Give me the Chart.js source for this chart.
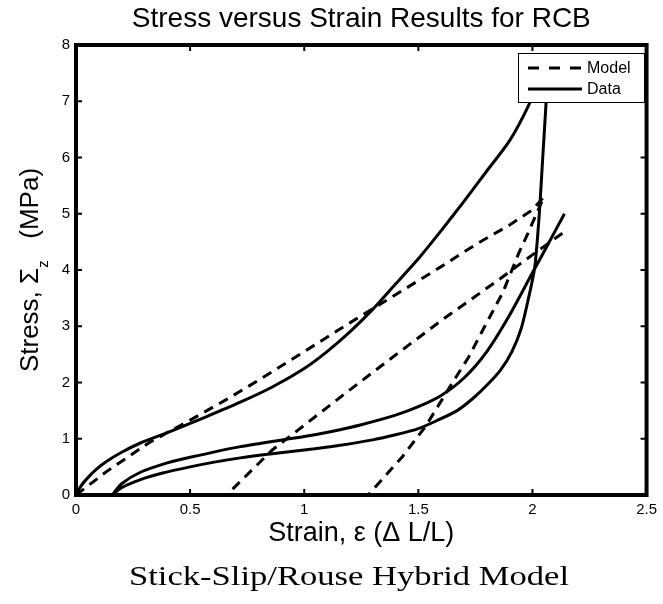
<!DOCTYPE html>
<html>
<head>
<meta charset="utf-8">
<script src="https://cdn.jsdelivr.net/npm/chart.js@4"></script>
<style>
  body { margin: 0; background: #fff; }
  #wrap { width: 663px; height: 604px; }
</style>
</head>
<body>
<div id="wrap"><canvas id="stress"></canvas></div>
<script>
const xTickLabels = ['0', '0.5', '1', '1.5', '2', '2.5'];
const yTickLabels = ['0', '1', '2', '3', '4', '5', '6', '7', '8'];

// measured loop: load, unload, reload
const dataStrain = [0, 0.02, 0.05, 0.09, 0.135, 0.2, 0.28, 0.42, 0.57, 0.72, 0.86, 1.0, 1.1, 1.2, 1.3, 1.4, 1.5, 1.6, 1.7, 1.8, 1.9, 1.98, 2.03, 2.06,
  2.065, 2.06, 2.045, 2.03, 2.01, 1.98, 1.95, 1.91, 1.86, 1.8, 1.74, 1.67, 1.58, 1.5, 1.4, 1.3, 1.15, 1.0, 0.85, 0.72, 0.6, 0.5, 0.38, 0.28, 0.2, 0.16,
  0.2, 0.28, 0.4, 0.5, 0.72, 1.0, 1.12, 1.25, 1.4, 1.5, 1.6, 1.7, 1.8, 1.9, 2.0, 2.07, 2.14];
const dataStress = [0, 0.15, 0.3, 0.46, 0.6, 0.76, 0.92, 1.14, 1.39, 1.65, 1.92, 2.25, 2.55, 2.9, 3.3, 3.75, 4.2, 4.7, 5.22, 5.76, 6.3, 6.9, 7.4, 7.75,
  7.5, 7.0, 6.0, 5.0, 4.05, 3.45, 2.95, 2.55, 2.22, 1.95, 1.72, 1.5, 1.32, 1.18, 1.07, 0.98, 0.88, 0.8, 0.73, 0.66, 0.58, 0.5, 0.39, 0.27, 0.13, 0,
  0.2, 0.4, 0.57, 0.67, 0.86, 1.04, 1.13, 1.25, 1.42, 1.57, 1.77, 2.08, 2.55, 3.2, 3.95, 4.47, 5.0];

// stick-slip model path
const modelStrain = [0, 0.135, 0.32, 0.5, 0.66, 0.8, 1.0, 1.2, 1.4, 1.6, 1.75, 1.9, 2.0, 2.05,
  1.98, 1.94, 1.87, 1.79, 1.72, 1.65, 1.53, 1.43, 1.28,
  0.66, 0.86, 1.2, 1.41, 1.6, 1.85, 2.01, 2.14];
const modelStress = [0, 0.42, 0.93, 1.33, 1.7, 2.04, 2.55, 3.06, 3.56, 4.06, 4.45, 4.8, 5.07, 5.3,
  4.65, 4.3, 3.6, 2.99, 2.45, 2.0, 1.21, 0.68, 0,
  0, 0.8, 1.87, 2.52, 3.1, 3.82, 4.3, 4.68];

const pts = (xs, ys) => xs.map((x, i) => ({ x: x, y: ys[i] }));

Chart.defaults.font.family = '"Liberation Sans", Arial, sans-serif';
Chart.defaults.color = '#000';

const axisBox = {
  id: 'axisBox',
  afterDatasetsDraw(chart, args, opts) {
    const { ctx, chartArea: { left, top, right, bottom, width, height }, scales: { x, y } } = chart;
    ctx.save();
    ctx.strokeStyle = '#000';
    ctx.lineWidth = opts.borderWidth;
    ctx.strokeRect(left, top, width, height);
    ctx.lineWidth = 2;
    ctx.beginPath();
    x.ticks.slice(1, -1).forEach(t => {
      const px = x.getPixelForValue(t.value);
      ctx.moveTo(px, bottom); ctx.lineTo(px, bottom - opts.tickLength);
      ctx.moveTo(px, top); ctx.lineTo(px, top + opts.tickLength);
    });
    y.ticks.slice(1, -1).forEach(t => {
      const py = y.getPixelForValue(t.value);
      ctx.moveTo(left, py); ctx.lineTo(left + opts.tickLength, py);
      ctx.moveTo(right, py); ctx.lineTo(right - opts.tickLength, py);
    });
    ctx.stroke();
    ctx.restore();
  }
};

const boxLegend = {
  id: 'boxLegend',
  afterDatasetsDraw(chart, args, opts) {
    const { ctx } = chart;
    const [x0, y0, x1, y1] = opts.box;
    ctx.save();
    ctx.fillStyle = '#fff';
    ctx.fillRect(x0, y0, x1 - x0, y1 - y0);
    ctx.strokeStyle = '#000';
    ctx.lineWidth = 1;
    ctx.strokeRect(x0 + 0.5, y0 + 0.5, x1 - x0, y1 - y0);
    ctx.font = opts.fontSize + 'px "Liberation Sans", Arial, sans-serif';
    ctx.textBaseline = 'middle';
    ctx.fillStyle = '#000';
    chart.data.datasets.forEach((ds, i) => {
      const cy = y0 + opts.rowTop + i * opts.rowGap;
      ctx.lineWidth = ds.borderWidth;
      ctx.setLineDash(ds.borderDash && ds.borderDash.length ? opts.dash : []);
      ctx.beginPath();
      ctx.moveTo(x0 + 10, cy);
      ctx.lineTo(x0 + 64, cy);
      ctx.stroke();
      ctx.setLineDash([]);
      ctx.fillText(ds.label, x0 + 69, cy + 1);
    });
    ctx.restore();
  }
};

const sideText = {
  id: 'sideText',
  afterDraw(chart, args, opts) {
    const { ctx, chartArea: { top, bottom } } = chart;
    ctx.save();
    ctx.fillStyle = '#000';
    // y axis label with subscript
    const main = '26px "Liberation Sans", Arial, sans-serif';
    const sub = '15px "Liberation Sans", Arial, sans-serif';
    const a = 'Stress, \u03A3', b = 'z', c = '   (MPa)';
    ctx.font = main; const wa = ctx.measureText(a).width, wc = ctx.measureText(c).width;
    ctx.font = sub; const wb = ctx.measureText(b).width;
    const total = wa + wb + wc;
    ctx.translate(opts.yLabelX, (top + bottom) / 2);
    ctx.rotate(-Math.PI / 2);
    ctx.textBaseline = 'alphabetic';
    ctx.textAlign = 'left';
    let s = -total / 2;
    ctx.font = main; ctx.fillText(a, s, 0); s += wa;
    ctx.font = sub; ctx.fillText(b, s, 10); s += wb;
    ctx.font = main; ctx.fillText(c, s, 0);
    ctx.restore();

    // caption under the axes
    ctx.save();
    ctx.fillStyle = '#000';
    ctx.font = '28px "Liberation Serif", "Times New Roman", serif';
    const w = ctx.measureText(opts.caption).width;
    ctx.translate(opts.captionX, opts.captionY);
    ctx.scale(opts.captionWidth / w, 1);
    ctx.textAlign = 'center';
    ctx.textBaseline = 'alphabetic';
    ctx.fillText(opts.caption, 0, 0);
    ctx.restore();
  }
};

new Chart(document.getElementById('stress'), {
  type: 'scatter',
  plugins: [axisBox, boxLegend, sideText],
  data: {
    datasets: [
      {
        label: 'Model',
        data: pts(modelStrain, modelStress),
        showLine: true,
        borderColor: '#000',
        borderWidth: 3,
        borderDash: [10, 7],
        pointRadius: 0,
        tension: 0
      },
      {
        label: 'Data',
        data: pts(dataStrain, dataStress),
        showLine: true,
        borderColor: '#000',
        borderWidth: 3,
        pointRadius: 0,
        tension: 0.25
      }
    ]
  },
  options: {
    responsive: true,
    maintainAspectRatio: false,
    animation: false,
    layout: { padding: { left: 0, right: 15, top: 0, bottom: 54.4 } },
    plugins: {
      legend: { display: false },
      tooltip: { enabled: false },
      title: {
        display: true,
        fullSize: false,
        text: 'Stress versus Strain Results for RCB',
        color: '#000',
        font: { size: 28, weight: 'normal' },
        padding: { top: 2.5, bottom: 8.9 }
      },
      axisBox: { borderWidth: 4, tickLength: 6 },
      boxLegend: { box: [518, 53, 644, 102], fontSize: 16, rowTop: 15, rowGap: 21, dash: [11, 10] },
      sideText: {
        yLabelX: 38,
        caption: 'Stick-Slip/Rouse Hybrid Model',
        captionX: 349, captionY: 585, captionWidth: 440
      }
    },
    scales: {
      x: {
        type: 'linear',
        min: 0, max: 2.5,
        grid: { display: false, drawTicks: false },
        border: { display: false },
        ticks: {
          stepSize: 0.5,
          padding: 6,
          font: { size: 15 },
          color: '#000',
          callback: (v, i) => xTickLabels[i]
        },
        title: {
          display: true,
          text: 'Strain, \u03B5 (\u0394 L/L)',
          color: '#000',
          font: { size: 27 },
          padding: 0
        },
        afterFit: s => { s.height = 54.6; }
      },
      y: {
        type: 'linear',
        min: 0, max: 8,
        grid: { display: false, drawTicks: false },
        border: { display: false },
        ticks: {
          stepSize: 1,
          padding: 6,
          font: { size: 15 },
          color: '#000',
          callback: (v, i) => yTickLabels[i]
        },
        afterFit: s => { s.width = 76; }
      }
    }
  }
});
</script>
</body>
</html>
